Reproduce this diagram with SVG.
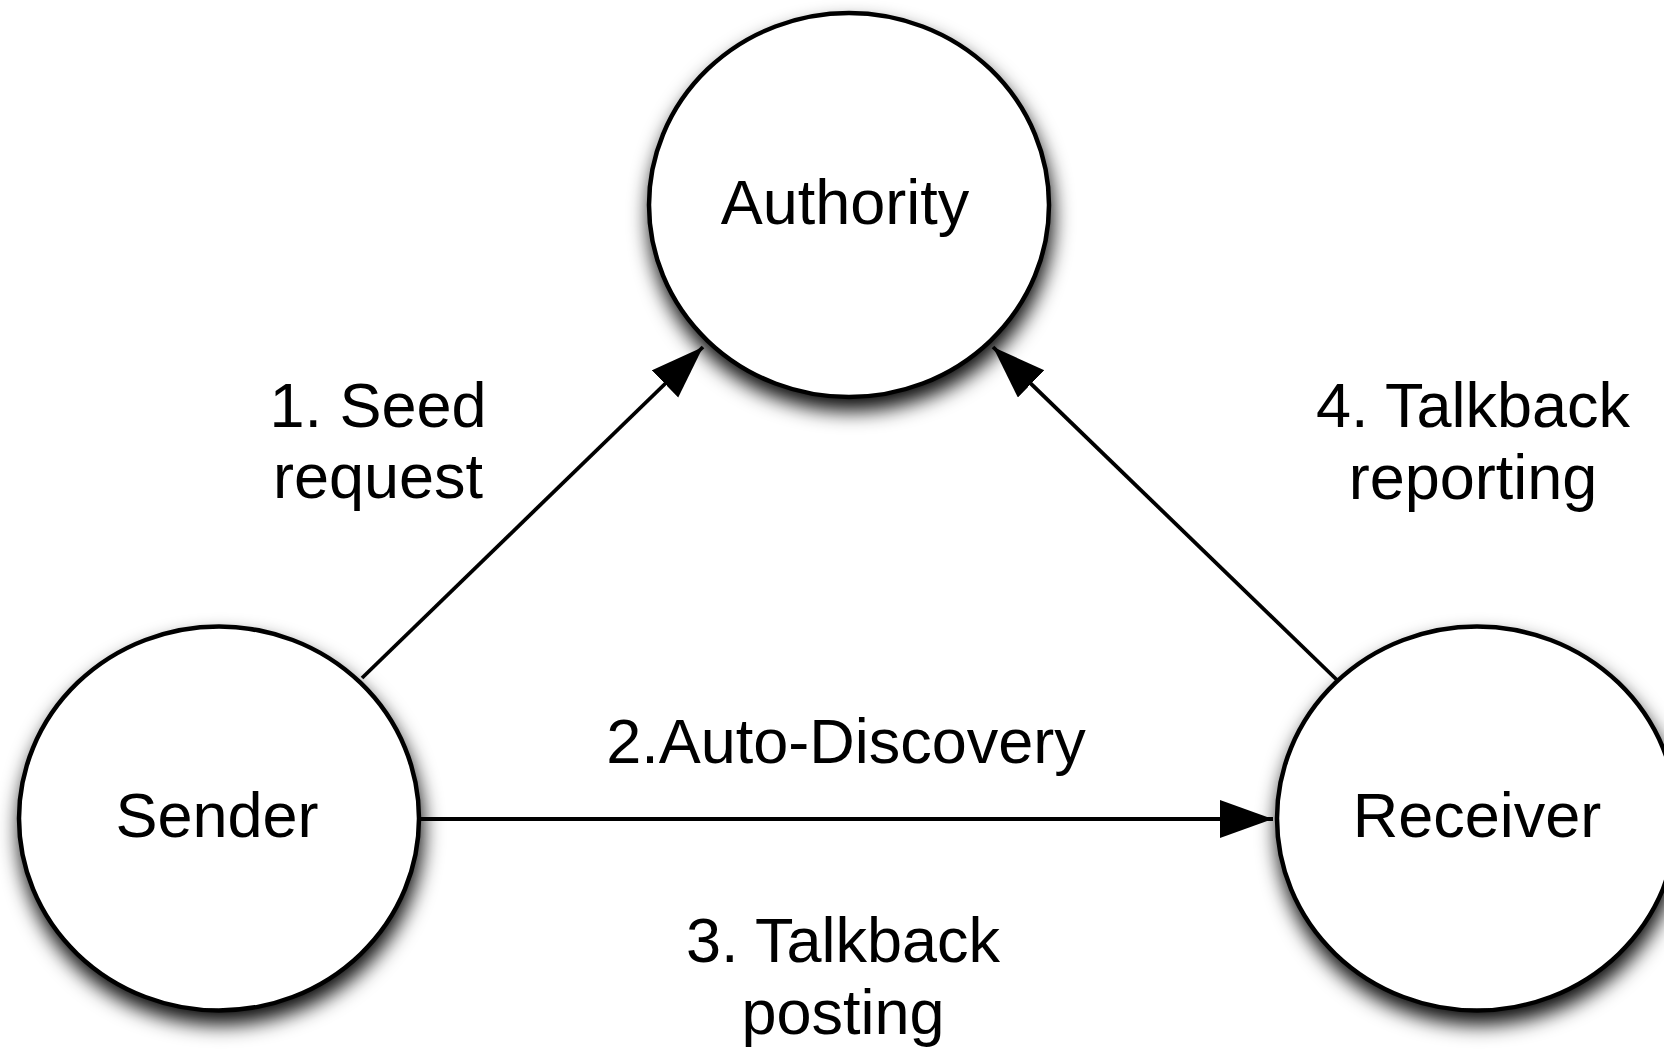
<svg xmlns="http://www.w3.org/2000/svg" width="1664" height="1052" viewBox="0 0 1664 1052">
  <style>
    .node { fill: #ffffff; stroke: #000000; stroke-width: 4.5; filter: url(#shadow); }
    .label { font-family: "Liberation Sans", Arial, Helvetica, sans-serif; font-size: 63px; fill: #000000; text-anchor: middle; }
    .edge { stroke: #000000; stroke-width: 3.8; fill: none; marker-end: url(#arrow); }
  </style>
  <defs>
    <filter id="shadow" x="-20%" y="-20%" width="140%" height="150%">
      <feDropShadow dx="2" dy="12" stdDeviation="10" flood-color="#000000" flood-opacity="0.95"/>
    </filter>
    <marker id="arrow" markerUnits="userSpaceOnUse" markerWidth="54" markerHeight="40" refX="53" refY="19" orient="auto">
      <path d="M0,0 L53,19 L0,38 Z" fill="#000000"/>
    </marker>
  </defs>
  <rect width="1664" height="1052" fill="#ffffff"/>
  <g id="node-authority">
    <ellipse class="node" cx="849" cy="205" rx="200" ry="192"/>
    <text class="label" x="845" y="224">Authority</text>
  </g>
  <g id="node-sender">
    <ellipse class="node" cx="219" cy="818.5" rx="200" ry="192"/>
    <text class="label" x="217" y="837">Sender</text>
  </g>
  <g id="node-receiver">
    <ellipse class="node" cx="1477" cy="818.5" rx="200" ry="192"/>
    <text class="label" x="1477" y="837">Receiver</text>
  </g>
  <g id="connectors">
    <line class="edge" x1="362" y1="678" x2="703" y2="347"/>
    <line class="edge" x1="421" y1="819" x2="1273" y2="819"/>
    <line class="edge" x1="1337" y1="680" x2="993" y2="347"/>
  </g>
  <g id="edge-labels">
    <text class="label" x="378" y="427">1. Seed</text>
    <text class="label" x="378" y="498">request</text>
    <text class="label" x="846" y="763">2.Auto-Discovery</text>
    <text class="label" x="843" y="962">3. Talkback</text>
    <text class="label" x="843" y="1034">posting</text>
    <text class="label" x="1473" y="427">4. Talkback</text>
    <text class="label" x="1473" y="499">reporting</text>
  </g>
</svg>
